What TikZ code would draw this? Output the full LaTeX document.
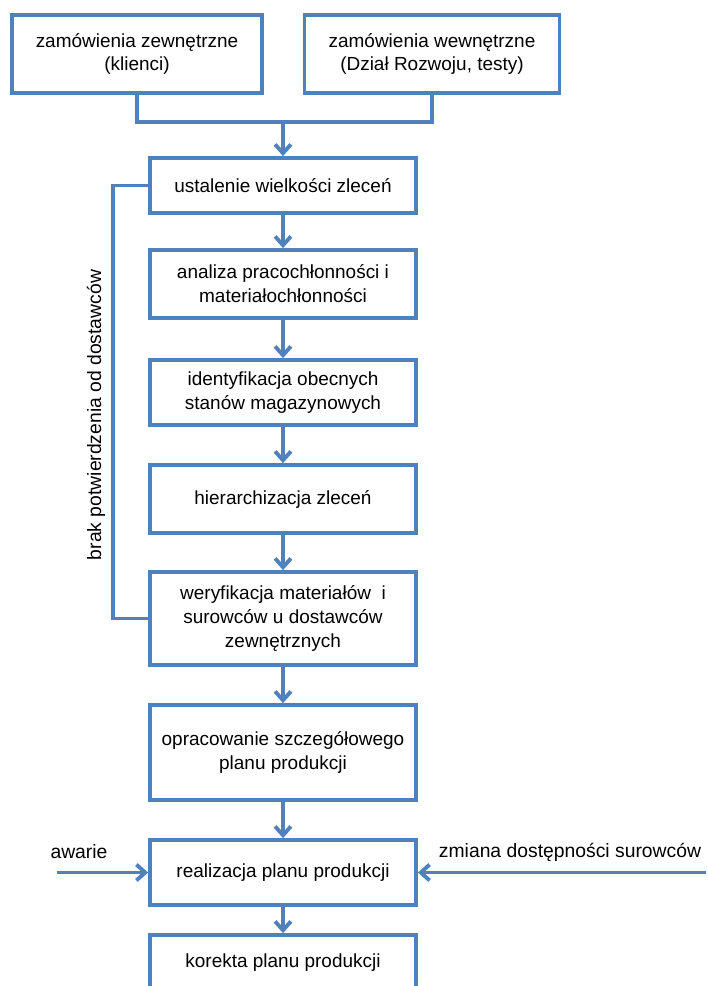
\documentclass[tikz,border=0pt]{standalone}
\usepackage{fontspec}
\setmainfont{Liberation Sans}
\usetikzlibrary{arrows.meta}
\definecolor{ramka}{HTML}{4F81BD}

\tikzset{
	blok/.style={draw=ramka, line width=2.2pt, fill=white, align=center, inner sep=2pt, minimum width=5.32cm, font=\fontsize{10.8}{13.6}\selectfont},
	linia/.style={draw=ramka, line width=2.2pt},
	strz/.style={draw=ramka, line width=2.2pt, -{Straight Barb[length=5pt,width=9pt]}},
	opis/.style={font=\fontsize{11}{13.6}\selectfont, inner sep=0pt}
}

\begin{document}
\begin{tikzpicture}[x=0.02cm, y=-0.02cm]
		%%%%% START %%%%%
		\useasboundingbox (0,0) rectangle (707,986);
		\clip (0,0) rectangle (707,986);
		
		\node[blok, minimum width=5cm, minimum height=1.56cm] (zew) at (137,54) {zamówienia zewnętrzne\\(klienci)};
		\node[blok, minimum width=5.1cm, minimum height=1.56cm] (wew) at (432,54) {zamówienia wewnętrzne\\(Dział Rozwoju, testy)};
		
		\node[blok, minimum height=1.1cm] (ustal) at (283,185.5) {ustalenie wielkości zleceń};
		\node[blok, minimum height=1.36cm] (analiza) at (283,284) {analiza pracochłonności i\\materiałochłonności};
		\node[blok, minimum height=1.3cm] (ident) at (283,392.5) {identyfikacja obecnych\\stanów magazynowych};
		\node[blok, minimum height=1.36cm] (hier) at (283,499) {hierarchizacja zleceń};
		\node[blok, minimum height=1.86cm] (weryf) at (283,618.5) {weryfikacja materiałów\ \ i\\surowców u dostawców\\zewnętrznych};
		\node[blok, minimum height=1.9cm] (oprac) at (283,752.5) {opracowanie szczegółowego\\planu produkcji};
		\node[blok, minimum height=1.3cm] (real) at (283,872.5) {realizacja planu produkcji};
		\node[blok, minimum height=1.1cm] (korekta) at (283,962.5) {korekta planu produkcji};
		
		% laczenie zamowien
		\coordinate (lacz) at (283,122);
		\draw[linia] (zew.south) |- (wew.south |- lacz) -- (wew.south);
		\draw[strz] (lacz) -- (ustal.north);
		
		\draw[strz] (ustal) -- (analiza);
		\draw[strz] (analiza) -- (ident);
		\draw[strz] (ident) -- (hier);
		\draw[strz] (hier) -- (weryf);
		\draw[strz] (weryf) -- (oprac);
		\draw[strz] (oprac) -- (real);
		\draw[strz] (real) -- (korekta);
		
		% petla zwrotna
		\draw[linia] (weryf.west) -- ++(-35,0) |- (ustal.west);
		\node[opis, rotate=90] (brak) at (96,415) {brak potwierdzenia od dostawców};
		
		% zaklocenia
		\coordinate (awarieP) at (57,872.5);
		\coordinate (zmianaP) at (706,872.5);
		\node[opis] (awarie) at (79,852) {awarie};
		\node[opis] (zmiana) at (570,852) {zmiana dostępności surowców};
		\draw[strz] (awarieP) -- (real.west);
		\draw[strz] (zmianaP) -- (real.east);
		
		%%%%% END %%%%%
\end{tikzpicture}
\end{document}
